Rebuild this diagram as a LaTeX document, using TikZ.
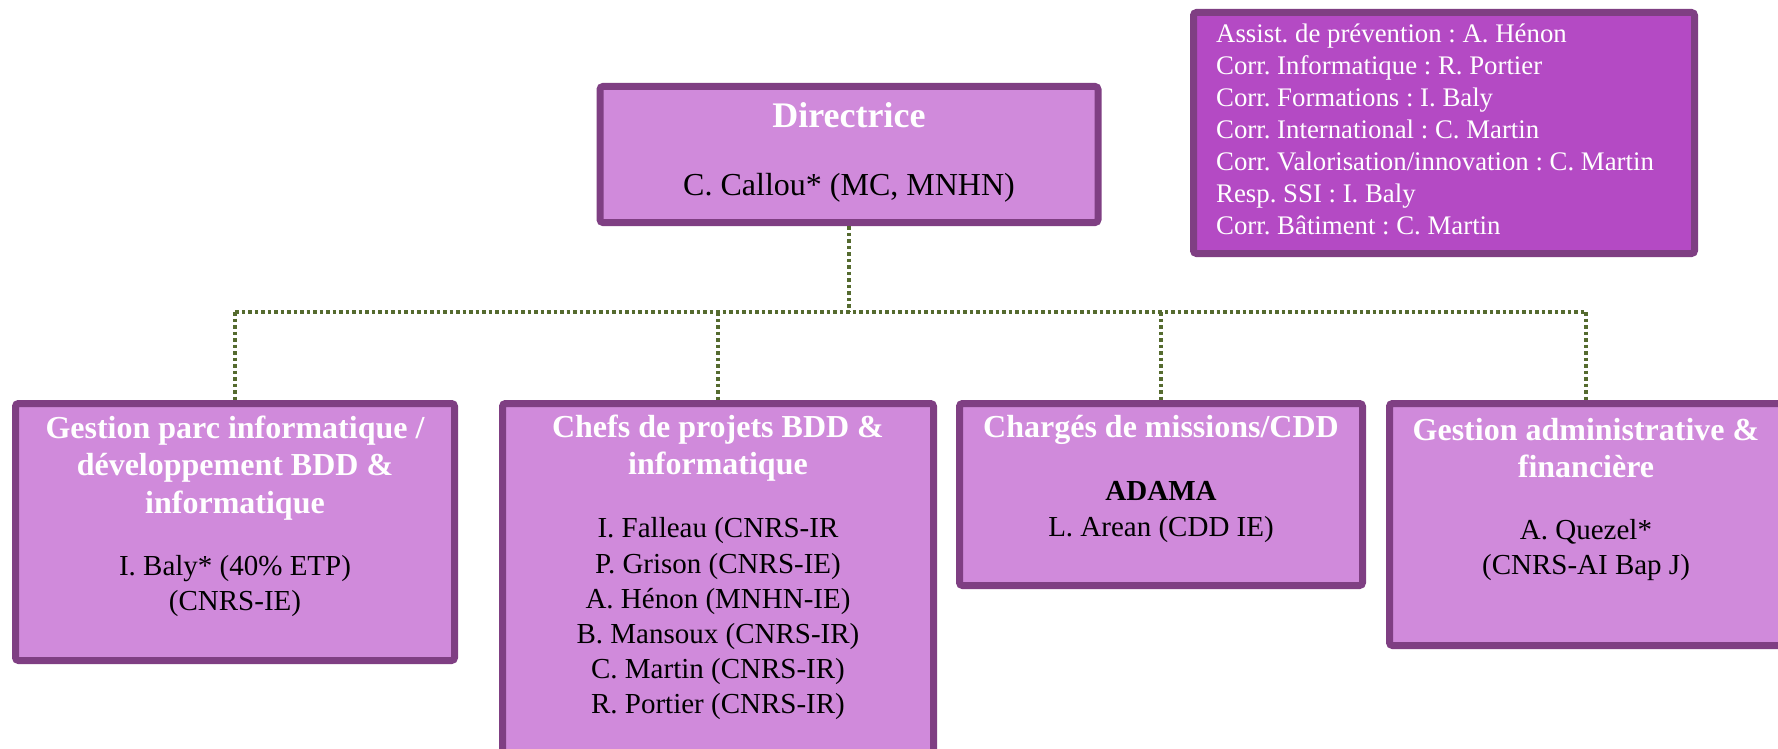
\documentclass[tikz,border=0pt]{standalone}
\usepackage{fontspec}
\setmainfont{Liberation Serif}
\usetikzlibrary{calc}
\frenchspacing

\definecolor{boxline}{RGB}{127,63,131}
\definecolor{boxfill}{RGB}{208,138,219}
\definecolor{notefill}{RGB}{180,74,196}
\definecolor{linkgreen}{RGB}{85,107,47}

\tikzset{
    unit/.style={draw=boxline, line width=7pt, fill=boxfill, rounded corners=3pt, inner sep=0pt},
    head/.style={text=white, align=center, inner sep=0pt, font=\fontsize{32}{37.5}\selectfont\bfseries},
    body/.style={align=center, inner sep=0pt, font=\fontsize{29}{35.5}\selectfont},
    link/.style={linkgreen, line width=3.5pt, dash pattern=on 3.5pt off 3pt}
}

\begin{document}
\begin{tikzpicture}[x=1pt, y=-1pt]
    \useasboundingbox (0,0) rectangle (1778,749);
    \clip (0,0) rectangle (1778,749);

    \coordinate (A0) at (849,154.5);
    \coordinate (A1) at (235,532);
    \coordinate (A2) at (718,585);
    \coordinate (A3) at (1161,494.5);
    \coordinate (A4) at (1586,524.5);
    \coordinate (A5) at (1444,133);
    \coordinate (H0) at (0,312);

    % boxes
    \node [unit, minimum width=498, minimum height=136] (B0) at (A0) {};
    \node [unit, minimum width=439, minimum height=257] (B1) at (A1) {};
    \node [unit, minimum width=431, minimum height=363] (B2) at (A2) {};
    \node [unit, minimum width=403, minimum height=182] (B3) at (A3) {};
    \node [unit, minimum width=393, minimum height=242] (B4) at (A4) {};
    \node [unit, fill=notefill, minimum width=501, minimum height=241] (B5) at (A5) {};

    % dotted links
    \draw [link] (B0.south) -- (B0.south |- H0);
    \draw [link] (B1.north |- H0) -- (B4.north |- H0);
    \foreach \b in {B1,B2,B3,B4}
        \draw [link] (\b.north |- H0) -- (\b.north);

    % texts
    \node [head, font=\fontsize{36}{40}\selectfont\bfseries] (T0) at (849,115) {Directrice};
    \node [body, font=\fontsize{32}{38}\selectfont] (U0) at (849,188) {C. Callou* (MC, MNHN)};

    \node [head] (T1) at (235,468) {Gestion parc informatique /\\ développement BDD \&\\ informatique};
    \node [body] (U1) at (235,586) {I. Baly* (40\% ETP)\\ (CNRS-IE)};

    \node [head] (T2) at (718,448) {Chefs de projets BDD \&\\ informatique};
    \node [body, font=\fontsize{29}{35.2}\selectfont] (U2) at (718,619) {I. Falleau (CNRS-IR\\ P. Grison (CNRS-IE)\\ A. Hénon (MNHN-IE)\\ B. Mansoux (CNRS-IR)\\ C. Martin (CNRS-IR)\\ R. Portier (CNRS-IR)};

    \node [head] (T3) at (1161,430) {Chargés de missions/CDD};
    \node [body] (U3) at (1161,512) {\textbf{ADAMA}\\ L. Arean (CDD IE)};

    \node [head] (T4) at (1586,448) {Gestion administrative \&\\ financière};
    \node [body] (U4) at (1586,550) {A. Quezel*\\ (CNRS-AI Bap J)};

    \node [anchor=west, align=left, text=white, inner sep=0pt, font=\fontsize{26.8}{32}\selectfont] (U5) at (1216,129)
        {Assist. de prévention : A. Hénon\\ Corr. Informatique : R. Portier\\ Corr. Formations : I. Baly\\ Corr. International : C. Martin\\ Corr. Valorisation/innovation : C. Martin\\ Resp. SSI : I. Baly\\ Corr. Bâtiment : C. Martin};
\end{tikzpicture}
\end{document}
